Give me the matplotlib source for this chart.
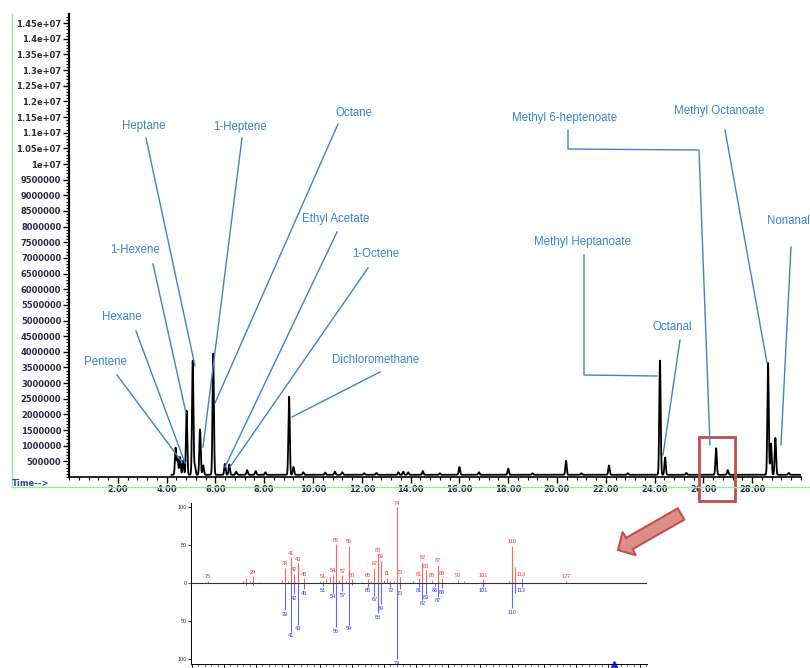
import matplotlib
matplotlib.use('Agg')
import matplotlib.pyplot as plt
import numpy as np
from matplotlib.ticker import MultipleLocator, FuncFormatter, FixedLocator
from matplotlib.patches import Rectangle, FancyArrow

plt.rcParams['font.family'] = ['Liberation Sans', 'DejaVu Sans']

# 色谱峰：保留时间(min) 与 丰度
peak_rt = [4.37, 4.45, 4.55, 4.68, 4.82, 5.07, 5.16, 5.37, 5.50, 5.91, 6.39, 6.57,
           6.85, 7.30, 7.65, 8.05, 9.02, 9.20, 9.60, 10.5, 10.9, 11.2, 12.1, 12.6,
           13.5, 13.7, 13.9, 14.5, 15.2, 16.0, 16.8, 18.0, 19.0, 20.37, 21.0, 22.13,
           22.9, 24.22, 24.43, 25.3, 26.52, 27.0, 28.65, 28.77, 28.95, 29.5]
peak_height = [0.86e6, 0.50e6, 0.57e6, 0.45e6, 2.05e6, 3.65e6, 0.30e6, 1.45e6, 0.30e6, 3.87e6,
               0.35e6, 0.33e6, 0.10e6, 0.15e6, 0.12e6, 0.08e6, 2.50e6, 0.25e6, 0.08e6, 0.07e6,
               0.10e6, 0.08e6, 0.05e6, 0.06e6, 0.08e6, 0.10e6, 0.08e6, 0.12e6, 0.05e6, 0.25e6,
               0.08e6, 0.20e6, 0.05e6, 0.45e6, 0.05e6, 0.30e6, 0.05e6, 3.65e6, 0.55e6, 0.06e6,
               0.85e6, 0.15e6, 3.58e6, 1.00e6, 1.18e6, 0.06e6]
baseline = 0.07e6
run_start, run_end = 4.2, 30.0

x_ticks = [2, 4, 6, 8, 10, 12, 14, 16, 18, 20, 22, 24, 26, 28]

# 质谱（上：样品，下：谱库）
ms_mz = [15, 26, 27, 28, 29, 31, 38, 39, 40, 41, 42, 43, 45, 50, 51, 52, 53, 54, 55, 56, 57,
         58, 59, 60, 63, 65, 66, 67, 68, 69, 70, 71, 72, 73, 74, 75, 79, 81, 82, 83, 85, 87,
         88, 93, 95, 101, 109, 110, 111, 113, 127]
ms_int = [3, 3, 7, 2, 9, 1, 4, 20, 3, 34, 12, 26, 6, 2, 3, 5, 8, 11, 51, 4, 10,
          3, 49, 5, 1, 5, 3, 20, 38, 29, 4, 7, 3, 2, 100, 8, 3, 6, 28, 17, 4, 24,
          7, 4, 2, 5, 3, 49, 21, 6, 3]
ms_labeled = [15, 29, 39, 41, 42, 43, 45, 51, 54, 55, 57, 59, 60, 65, 67, 68, 69, 71, 74, 75,
              81, 82, 83, 85, 87, 88, 93, 101, 110, 113, 127]

lib_mz = [27, 29, 39, 41, 42, 43, 45, 51, 54, 55, 57, 59, 60, 65, 67, 68, 69, 72, 74, 75,
          81, 82, 83, 86, 87, 88, 101, 110, 111, 113]
lib_int = [2, 2, 36, 64, 15, 55, 8, 4, 13, 58, 11, 55, 3, 5, 17, 40, 28, 5, 100, 8,
           5, 22, 14, 4, 18, 7, 5, 33, 13, 5]
lib_labeled = [39, 41, 42, 43, 45, 51, 54, 55, 57, 59, 65, 67, 68, 69, 72, 74, 75,
               81, 82, 83, 86, 87, 88, 101, 110, 113]
mol_ion = 142

W, H = 810, 668
fig = plt.figure(figsize=(W / 100, H / 100), dpi=100)


def frac(x0, y0, x1, y1):
    return [x0 / W, 1 - y1 / H, (x1 - x0) / W, (y1 - y0) / H]


# ---- 色谱图 ----
ax = fig.add_axes(frac(69, 14, 801, 477))
t = np.linspace(run_start, run_end, 8000)
sig = np.full_like(t, baseline)
for rt, h in zip(peak_rt, peak_height):
    sig += h * np.exp(-0.5 * ((t - rt) / 0.028) ** 2)
ax.plot(t, sig, color='black', lw=1.3)
ax.set_xlim(0, 30)
ax.set_ylim(0, 463 / 31.3e-6)
for s in ['top', 'right']:
    ax.spines[s].set_visible(False)
ax.spines['left'].set_linewidth(1.6)
ax.spines['bottom'].set_linewidth(1.2)

ax.yaxis.set_major_locator(FixedLocator(np.arange(5e5, 1.46e7, 5e5)))
ax.yaxis.set_minor_locator(MultipleLocator(1e5))
ax.yaxis.set_major_formatter(FuncFormatter(lambda v, p: '%g' % v if v >= 1e7 else '%d' % v))
ax.xaxis.set_major_locator(FixedLocator(x_ticks))
ax.xaxis.set_minor_locator(MultipleLocator(0.4))
ax.xaxis.set_major_formatter(FuncFormatter(lambda v, p: '%.2f' % v))
ax.tick_params(which='major', length=4, width=1, direction='out', pad=1.5, colors='black',
               labelsize=6)
ax.tick_params(which='minor', length=2, width=0.8)
for lab in ax.get_yticklabels() + ax.get_xticklabels():
    lab.set_fontfamily('DejaVu Sans')
    lab.set_fontweight('bold')
    lab.set_color('#2c2c48')

# ---- 质谱 ----
ax2 = fig.add_axes(frac(191, 503, 647, 664))
ax2.set_xlim(9.7, 152.2)
ax2.set_ylim(-106.6, 105.3)
ax2.vlines(ms_mz, 0, ms_int, color='#ff6464', lw=0.8)
ax2.vlines(lib_mz, 0, [-v for v in lib_int], color='#6464ff', lw=0.8)
ax2.axhline(0, color='#333333', lw=0.8)
for mz, v in zip(ms_mz, ms_int):
    if mz in ms_labeled:
        ax2.text(mz, v + 2, str(mz), color='#ff3030', fontsize=4, ha='center', va='bottom')
for mz, v in zip(lib_mz, lib_int):
    if mz in lib_labeled:
        ax2.text(mz, -v - 2, str(mz), color='#3030ff', fontsize=4, ha='center', va='top')
ax2.plot([mol_ion], [-106.6], marker='^', color='#2020ff', ms=4, clip_on=False)
for s in ['top', 'right']:
    ax2.spines[s].set_visible(False)
ax2.spines['left'].set_linewidth(0.7)
ax2.spines['bottom'].set_linewidth(0.7)
ax2.set_yticks([-100, -50, 0, 50, 100])
ax2.set_yticklabels(['100', '50', '0', '50', '100'])
ax2.xaxis.set_major_locator(MultipleLocator(10))
ax2.xaxis.set_minor_locator(MultipleLocator(2))
ax2.tick_params(axis='y', labelsize=4, length=2, width=0.6, pad=1, colors='#333333')
ax2.tick_params(axis='x', which='major', length=3, width=0.6, labelbottom=False)
ax2.tick_params(axis='x', which='minor', length=1.5, width=0.5)

# ---- 标注层（像素坐标）----
ov = fig.add_axes([0, 0, 1, 1], facecolor='none')
ov.set_xlim(0, W)
ov.set_ylim(H, 0)
ov.axis('off')

ov.plot([12, 12], [14, 487], color='#8cf08c', lw=1)
ov.plot([12, W], [487, 487], color='#8cf08c', lw=1)
ov.text(12, 484, 'Time-->', fontsize=6, color='#3c3cb0', va='center', ha='left',
        family='DejaVu Sans', fontweight='bold')

blue = '#3a86c8'
labels = [
    ('Pentene', 105, 362, 'center', [(117, 375), (182, 462)]),
    ('Hexane', 122, 317, 'center', [(136, 331), (185, 463)]),
    ('1-Hexene', 135, 250, 'center', [(153, 264), (186, 413)]),
    ('Heptane', 144, 126, 'center', [(146, 138), (195, 366)]),
    ('1-Heptene', 240, 127, 'center', [(242, 138), (203, 447)]),
    ('Octane', 354, 113, 'center', [(338, 124), (215, 403)]),
    ('Ethyl Acetate', 336, 219, 'center', [(337, 232), (225, 467)]),
    ('1-Octene', 376, 254, 'center', [(368, 268), (230, 467)]),
    ('Dichloromethane', 376, 360, 'center', [(380, 372), (292, 417)]),
    ('Methyl 6-heptenoate', 565, 118, 'center', [(568, 130), (568, 149), (699, 150), (710, 445)]),
    ('Methyl Octanoate', 719, 111, 'center', [(725, 130), (767, 363)]),
    ('Methyl Heptanoate', 582, 242, 'center', [(584, 255), (584, 375), (657, 376)]),
    ('Octanal', 672, 327, 'center', [(680, 340), (663, 455)]),
    ('Nonanal', 767, 221, 'left', [(791, 247), (781, 445)]),
]
for name, tx, ty, ha, pts in labels:
    ov.text(tx, ty, name, color=blue, fontsize=8.3, ha=ha, va='center')
    xs, ys = zip(*pts)
    ov.plot(xs, ys, color=blue, lw=1)

ov.add_patch(Rectangle((699, 437), 36, 64, fill=False, edgecolor='#c0504d', lw=2))
ov.add_patch(FancyArrow(681, 514, -63, 36, width=13, head_width=27, head_length=13,
                        length_includes_head=True, facecolor='#dd8e8b',
                        edgecolor='#c0504d', lw=1.5))

fig.savefig('out.png', dpi=100)
